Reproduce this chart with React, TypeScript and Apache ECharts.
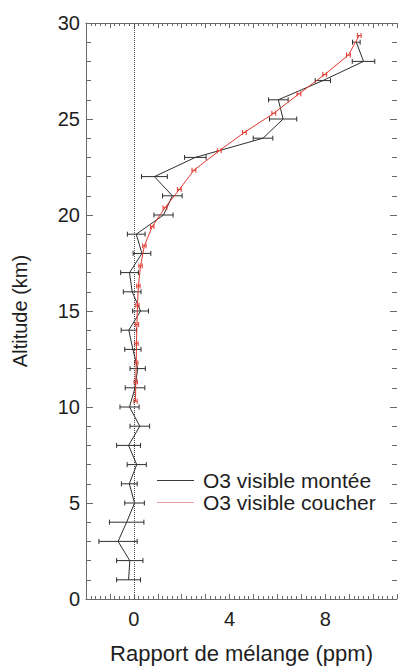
import React, { useEffect, useRef } from "react";
import * as echarts from "echarts";

// Altitudes (km) and mixing ratios (ppm)
const monteeAlt = [1, 2, 3, 4, 5, 6, 7, 8, 9, 10, 11, 12, 13, 14, 15, 16, 17, 18, 19, 20, 21, 22, 23, 24, 25, 26, 27, 28, 29];
const monteeVal = [-0.22, -0.17, -0.66, -0.3, 0.03, -0.19, 0.12, -0.22, 0.25, -0.18, 0.05, 0.16, -0.04, -0.21, 0.28, -0.07, -0.18, 0.34, 0.1, 1.24, 1.61, 0.86, 2.57, 5.4, 6.24, 6.04, 7.9, 9.6, 9.3];
const monteeErr = [0.5, 0.55, 0.8, 0.72, 0.41, 0.33, 0.4, 0.5, 0.41, 0.4, 0.41, 0.32, 0.34, 0.32, 0.33, 0.37, 0.37, 0.37, 0.37, 0.4, 0.41, 0.54, 0.45, 0.41, 0.57, 0.41, 0.32, 0.47, 0.16];

const coucherAlt = [10.3, 11.3, 12.3, 13.3, 14.3, 15.3, 16.3, 17.35, 18.4, 19.4, 20.38, 21.33, 22.33, 23.35, 24.3, 25.3, 26.31, 27.32, 28.33, 29.35];
const coucherVal = [0.07, 0.08, 0.1, 0.11, 0.13, 0.15, 0.19, 0.28, 0.44, 0.77, 1.3, 1.9, 2.51, 3.57, 4.62, 5.85, 6.9, 7.98, 8.97, 9.42];
const coucherErr = [0.07, 0.07, 0.07, 0.07, 0.07, 0.07, 0.07, 0.07, 0.07, 0.07, 0.08, 0.08, 0.08, 0.08, 0.08, 0.08, 0.08, 0.08, 0.08, 0.08];

const xTickLabels = [0, 4, 8];
const yTickLabels = [0, 5, 10, 15, 20, 25, 30];

const labelMontee = "O3 visible montée";
const labelCoucher = "O3 visible coucher";

const FONT = "Liberation Sans, Arial, sans-serif";
const AXIS_COLOR = "#6a6a6a";
const TEXT_COLOR = "#1e1e1e";
const BLACK = "#2e2e2e";
const RED = "#e0392e";

function errorRenderer(color: string, capH: number) {
  return (params: any, api: any) => {
    const x = api.value(0);
    const y = api.value(1);
    const e = api.value(2);
    const lo = api.coord([x - e, y]);
    const hi = api.coord([x + e, y]);
    const style = { stroke: color, lineWidth: 1 };
    return {
      type: "group",
      children: [
        { type: "line", shape: { x1: lo[0], y1: lo[1], x2: hi[0], y2: hi[1] }, style },
        { type: "line", shape: { x1: lo[0], y1: lo[1] - capH, x2: lo[0], y2: lo[1] + capH }, style },
        { type: "line", shape: { x1: hi[0], y1: hi[1] - capH, x2: hi[0], y2: hi[1] + capH }, style },
      ],
    };
  };
}

export default function App() {
  const ref = useRef<HTMLDivElement>(null);

  useEffect(() => {
    if (!ref.current) return;
    const chart = echarts.init(ref.current, undefined, { renderer: "svg" });

    const monteeLine = monteeAlt.map((a, i) => [monteeVal[i], a]);
    const monteeBars = monteeAlt.map((a, i) => [monteeVal[i], a, monteeErr[i]]);
    const coucherLine = coucherAlt.map((a, i) => [coucherVal[i], a]);
    const coucherBars = coucherAlt.map((a, i) => [coucherVal[i], a, coucherErr[i]]);

    const tickCommon = {
      axisLine: { show: true, onZero: false, lineStyle: { color: AXIS_COLOR, width: 1 } },
      splitLine: { show: false },
    };

    chart.setOption({
      animation: false,
      backgroundColor: "#ffffff",
      textStyle: { fontFamily: FONT },
      grid: { left: 86, top: 23, right: 0, bottom: 68, containLabel: false },
      legend: {
        orient: "vertical",
        left: 157,
        top: 470,
        padding: 0,
        itemGap: 1,
        itemWidth: 37,
        itemHeight: 1,
        data: [
          { name: labelMontee, icon: "rect", itemStyle: { color: "#3a3a3a" } },
          { name: labelCoucher, icon: "rect", itemStyle: { color: "#e8a49c" } },
        ],
        textStyle: { fontSize: 21, color: TEXT_COLOR, fontFamily: FONT, padding: [0, 0, 0, 4] },
      },
      xAxis: [
        {
          type: "value",
          position: "bottom",
          min: -2,
          max: 11,
          interval: 1,
          ...tickCommon,
          axisTick: { show: true, inside: true, length: 5, lineStyle: { color: AXIS_COLOR } },
          minorTick: { show: true, splitNumber: 5, length: 3, lineStyle: { color: AXIS_COLOR } },
          minorSplitLine: { show: false },
          axisLabel: {
            fontSize: 20,
            color: TEXT_COLOR,
            fontFamily: FONT,
            margin: 10,
            formatter: (v: number) => (xTickLabels.indexOf(v) >= 0 ? String(v) : ""),
          },
          name: "Rapport de mélange (ppm)",
          nameLocation: "middle",
          nameGap: 43,
          nameTextStyle: { fontSize: 22, color: TEXT_COLOR, fontFamily: FONT },
        },
        {
          type: "value",
          position: "top",
          min: -2,
          max: 11,
          interval: 1,
          ...tickCommon,
          axisTick: { show: true, inside: true, length: 5, lineStyle: { color: AXIS_COLOR } },
          minorTick: { show: true, splitNumber: 5, length: 3, lineStyle: { color: AXIS_COLOR } },
          axisLabel: { show: false },
        },
      ],
      yAxis: [
        {
          type: "value",
          position: "left",
          min: 0,
          max: 30,
          interval: 5,
          ...tickCommon,
          axisTick: { show: true, inside: true, length: 7, lineStyle: { color: AXIS_COLOR } },
          minorTick: { show: true, splitNumber: 5, length: 5, lineStyle: { color: AXIS_COLOR } },
          axisLabel: {
            fontSize: 20,
            color: TEXT_COLOR,
            fontFamily: FONT,
            margin: 6,
            formatter: (v: number) => (yTickLabels.indexOf(v) >= 0 ? String(v) : ""),
          },
          name: "Altitude (km)",
          nameLocation: "middle",
          nameGap: 56,
          nameRotate: 90,
          nameTextStyle: { fontSize: 20, color: TEXT_COLOR, fontFamily: FONT },
        },
        {
          type: "value",
          position: "right",
          min: 0,
          max: 30,
          interval: 5,
          axisLine: { show: false, onZero: false },
          splitLine: { show: false },
          axisTick: { show: true, inside: true, length: 7, lineStyle: { color: AXIS_COLOR } },
          minorTick: { show: true, splitNumber: 5, length: 5, lineStyle: { color: AXIS_COLOR } },
          axisLabel: { show: false },
        },
      ],
      series: [
        {
          name: labelMontee,
          type: "line",
          xAxisIndex: 0,
          yAxisIndex: 0,
          data: monteeLine,
          symbol: "none",
          lineStyle: { color: BLACK, width: 1 },
          itemStyle: { color: BLACK },
          z: 3,
          markLine: {
            silent: true,
            symbol: "none",
            label: { show: false },
            lineStyle: { color: "#444", type: "dotted", width: 1 },
            data: [{ xAxis: 0 }],
          },
        },
        {
          type: "custom",
          xAxisIndex: 0,
          yAxisIndex: 0,
          data: monteeBars,
          encode: { x: 0, y: 1 },
          renderItem: errorRenderer(BLACK, 2.5),
          z: 3,
        },
        {
          name: labelCoucher,
          type: "line",
          xAxisIndex: 0,
          yAxisIndex: 0,
          data: coucherLine,
          symbol: "none",
          lineStyle: { color: RED, width: 1 },
          itemStyle: { color: RED },
          z: 4,
        },
        {
          type: "custom",
          xAxisIndex: 0,
          yAxisIndex: 0,
          data: coucherBars,
          encode: { x: 0, y: 1 },
          renderItem: errorRenderer(RED, 2.5),
          z: 4,
        },
      ],
    });

    return () => chart.dispose();
  }, []);

  return (
    <div
      ref={ref}
      style={{ position: "fixed", left: 0, top: 0, width: 400, height: 669, background: "#fff" }}
    />
  );
}
